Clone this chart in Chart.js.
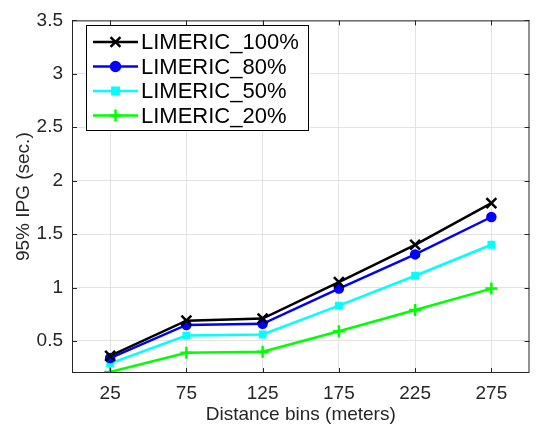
<!DOCTYPE html>
<html>
<head>
<meta charset="utf-8">
<script src="https://cdn.jsdelivr.net/npm/chart.js@4/dist/chart.umd.min.js"></script>
<style>
  html, body { margin: 0; padding: 0; background: #fff; }
  canvas { display: block; }
</style>
</head>
<body>
<canvas id="chart" width="539" height="432"></canvas>
<script>
// Distance bins (x) and 95% IPG values per series
const distanceBins = [25, 75, 125, 175, 225, 275];
const limeric100 = [0.36, 0.69, 0.71, 1.05, 1.40, 1.79];
const limeric80 = [0.34, 0.65, 0.66, 0.99, 1.31, 1.66];
const limeric50 = [0.29, 0.55, 0.56, 0.83, 1.11, 1.40];
const limeric20 = [0.21, 0.39, 0.40, 0.59, 0.79, 0.99];
const yTicks = [0.5, 1, 1.5, 2, 2.5, 3, 3.5];

const textColor = '#262626';
const fontFamily = '"Liberation Sans", Arial, Helvetica, sans-serif';

function toPoints(values) {
    return distanceBins.map((x, i) => ({ x: x, y: values[i] }));
}

function makeSeries(label, values, color, style, radius, markerWidth) {
    return {
        label: label,
        data: toPoints(values),
        borderColor: color,
        backgroundColor: color,
        borderWidth: 2.5,
        pointStyle: style,
        pointRadius: radius,
        pointBorderWidth: markerWidth,
        pointBorderColor: color,
        pointBackgroundColor: color,
        tension: 0
    };
}

// Box round the plot area plus inward tick marks, like the original figure
const framePlugin = {
    id: 'frame',
    afterDatasetsDraw(chart) {
        const { ctx, chartArea: a, scales } = chart;
        ctx.save();
        ctx.strokeStyle = textColor;
        ctx.lineWidth = 1;
        ctx.strokeRect(a.left + 0.5, a.top + 0.5, a.right - a.left - 1, a.bottom - a.top - 1);
        ctx.beginPath();
        distanceBins.forEach(v => {
            const px = Math.round(scales.x.getPixelForValue(v)) + 0.5;
            ctx.moveTo(px, a.bottom); ctx.lineTo(px, a.bottom - 5);
            ctx.moveTo(px, a.top); ctx.lineTo(px, a.top + 5);
        });
        yTicks.forEach(v => {
            const py = Math.round(scales.y.getPixelForValue(v)) + 0.5;
            ctx.moveTo(a.left, py); ctx.lineTo(a.left + 5, py);
            ctx.moveTo(a.right, py); ctx.lineTo(a.right - 5, py);
        });
        ctx.stroke();
        ctx.restore();
    }
};

// Legend box drawn inside the plot, upper left
const insideLegend = {
    id: 'insideLegend',
    afterDraw(chart) {
        const ctx = chart.ctx;
        const box = { x: 86.5, y: 25.5, w: 222, h: 105 };
        ctx.save();
        ctx.fillStyle = '#fff';
        ctx.fillRect(box.x, box.y, box.w, box.h);
        ctx.strokeStyle = '#000';
        ctx.lineWidth = 1;
        ctx.strokeRect(box.x, box.y, box.w, box.h);
        ctx.font = '22px ' + fontFamily;
        ctx.textBaseline = 'middle';
        chart.data.datasets.forEach((ds, i) => {
            const y = 42 + i * 24.5;
            ctx.strokeStyle = ds.borderColor;
            ctx.fillStyle = ds.borderColor;
            ctx.lineWidth = 2.5;
            ctx.beginPath();
            ctx.moveTo(93, y);
            ctx.lineTo(138, y);
            ctx.stroke();
            Chart.helpers.drawPoint(ctx, {
                pointStyle: ds.pointStyle,
                radius: ds.pointRadius,
                rotation: 0,
                borderWidth: ds.pointBorderWidth
            }, 115.5, y);
            ctx.fillStyle = '#000';
            ctx.fillText(ds.label, 141, y + 1);
        });
        ctx.restore();
    }
};

new Chart(document.getElementById('chart').getContext('2d'), {
    type: 'line',
    data: {
        datasets: [
            makeSeries('LIMERIC_100%', limeric100, '#000000', 'crossRot', 7, 2.5),
            makeSeries('LIMERIC_80%', limeric80, '#0000ff', 'circle', 4.5, 1.5),
            makeSeries('LIMERIC_50%', limeric50, '#00ffff', 'rect', 4.5, 1.5),
            makeSeries('LIMERIC_20%', limeric20, '#00ff00', 'cross', 6, 2.5)
        ]
    },
    options: {
        responsive: false,
        animation: false,
        layout: { padding: { left: 0, top: 12, right: 3, bottom: 0 } },
        plugins: {
            legend: { display: false },
            tooltip: { enabled: false }
        },
        scales: {
            x: {
                type: 'linear',
                min: 0,
                max: 300,
                afterBuildTicks(scale) {
                    scale.ticks = distanceBins.map(v => ({ value: v }));
                },
                afterFit(scale) { scale.height = 59; },
                grid: { color: '#e3e3e3', drawTicks: false },
                border: { display: false },
                ticks: {
                    color: textColor,
                    padding: 9,
                    maxRotation: 0,
                    callback: v => String(v),
                    font: { family: fontFamily, size: 19 }
                },
                title: {
                    display: true,
                    text: 'Distance bins (meters)',
                    color: textColor,
                    padding: { top: 0, bottom: 6 },
                    font: { family: fontFamily, size: 19 }
                }
            },
            y: {
                min: 0.2,
                max: 3.5,
                afterBuildTicks(scale) {
                    scale.ticks = yTicks.map(v => ({ value: v }));
                },
                afterFit(scale) { scale.width = 72; },
                grid: { color: '#e3e3e3', drawTicks: false },
                border: { display: false },
                ticks: {
                    color: textColor,
                    padding: 9,
                    callback: v => String(v),
                    font: { family: fontFamily, size: 19 }
                },
                title: {
                    display: true,
                    text: '95% IPG (sec.)',
                    color: textColor,
                    padding: { top: 12, bottom: 0 },
                    font: { family: fontFamily, size: 19 }
                }
            }
        }
    },
    plugins: [framePlugin, insideLegend]
});
</script>
</body>
</html>
